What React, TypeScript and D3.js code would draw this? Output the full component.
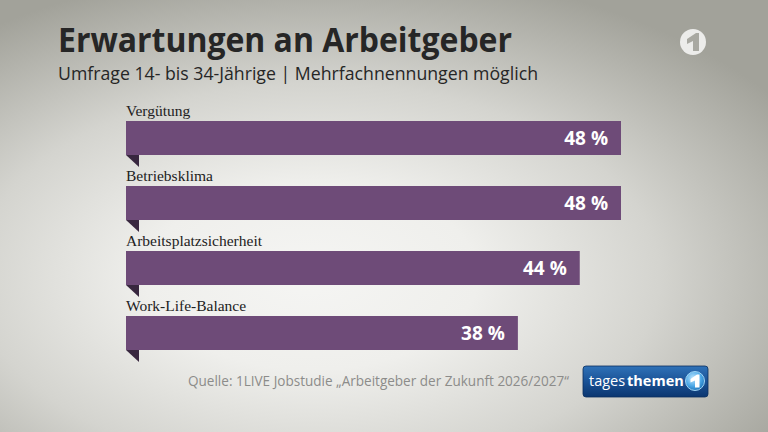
import React from "react";
import * as d3 from "d3";

const categories = ["Vergütung", "Betriebsklima", "Arbeitsplatzsicherheit", "Work-Life-Balance"];
const values = [48, 48, 44, 38];
const title = "Erwartungen an Arbeitgeber";
const subtitle = "Umfrage 14- bis 34-Jährige | Mehrfachnennungen möglich";
const source = "Quelle: 1LIVE Jobstudie „Arbeitgeber der Zukunft 2026/2027“";

const W = 768;
const H = 432;

export default function App() {
  const x = d3.scaleLinear().domain([0, 48]).range([126, 621]);
  const y = d3.scaleBand<string>().domain(categories).range([121, 350]).paddingInner(31 / 65).paddingOuter(0);
  const bw = y.bandwidth();
  const sans = "'Open Sans', 'Noto Sans', sans-serif";
  const serif = "'Liberation Serif', 'DejaVu Serif', serif";
  const srcScale = 0.875;

  return (
    <svg width={W} height={H} viewBox={`0 0 ${W} ${H}`} style={{ position: "absolute", left: 0, top: 0 }}>
      <defs>
        <radialGradient id="bg" cx="0.42" cy="0.64" r="0.72" fx="0.4" fy="0.64">
          <stop offset="0" stopColor="#f5f5f3" />
          <stop offset="0.3" stopColor="#efefec" />
          <stop offset="0.62" stopColor="#d4d4cf" />
          <stop offset="1" stopColor="#a2a29a" />
        </radialGradient>
        <linearGradient id="tt" x1="0" y1="0" x2="0" y2="1">
          <stop offset="0" stopColor="#2f72b8" />
          <stop offset="0.5" stopColor="#1a5296" />
          <stop offset="1" stopColor="#0b3670" />
        </linearGradient>
        <radialGradient id="ic" cx="0.4" cy="0.35" r="0.7">
          <stop offset="0" stopColor="#bfe6ff" />
          <stop offset="0.6" stopColor="#4aa7e6" />
          <stop offset="1" stopColor="#1b6fb5" />
        </radialGradient>
      </defs>
      <rect x={0} y={0} width={W} height={H} fill="url(#bg)" />

      <text x={58} y={52} fontFamily={sans} fontWeight={700} fontSize={33.5} fill="#262626"
        textLength={454} lengthAdjust="spacingAndGlyphs">{title}</text>
      <text x={58} y={80} fontFamily={sans} fontSize={17.5} fill="#262626"
        textLength={480} lengthAdjust="spacingAndGlyphs">{subtitle}</text>

      {/* ARD logo */}
      <g transform="translate(693,42)">
        <circle r={13} fill="#ececea" />
        <path d="M-6,-3 L3,-9 L6,-9 L6,9 L0,9 L0,-1 L-6,2 Z" fill="#a9a9a2" />
      </g>

      {categories.map((c, i) => {
        const top = y(c) as number;
        const x0 = x(0);
        const x1 = x(values[i]);
        return (
          <g key={c}>
            <text x={x0} y={top - 5} fontFamily={serif} fontSize={15.5} fill="#222222">{c}</text>
            <rect x={x0} y={top} width={x1 - x0} height={bw} fill="#6e4b78" />
            <path d={`M${x0},${top + bw} L${x0 + 13},${top + bw} L${x0 + 13},${top + bw + 12} Z`} fill="#38273f" />
            <text x={x1 - 13} y={top + bw / 2 + 7} textAnchor="end" fontFamily={sans} fontWeight={700}
              fontSize={19} fill="#ffffff">{`${values[i]} %`}</text>
          </g>
        );
      })}

      <text transform={`translate(188,385.5) scale(${srcScale},1)`} x={0} y={0} fontFamily={sans} fontSize={14.5}
        fill="#8c8c8a" textLength={381 / srcScale} lengthAdjust="spacingAndGlyphs">{source}</text>

      {/* tagesthemen logo */}
      <g>
        <rect x={583} y={366} width={125} height={31} rx={3} fill="url(#tt)" stroke="#0a2f5e" strokeWidth={0.8} />
        <text x={589} y={386} fontFamily={sans} fontSize={14.5} fill="#ffffff">tages</text>
        <text x={627} y={386} fontFamily={sans} fontSize={14.5} fontWeight={700} fill="#ffffff">themen</text>
        <g transform="translate(695,381)">
          <circle r={9.5} fill="url(#ic)" stroke="#9fd4f5" strokeWidth={1} />
          <path d="M-4.5,-2 L2,-6.5 L4.5,-6.5 L4.5,6.5 L0,6.5 L0,-0.5 L-4.5,1.5 Z" fill="#ffffff" />
        </g>
      </g>
    </svg>
  );
}
